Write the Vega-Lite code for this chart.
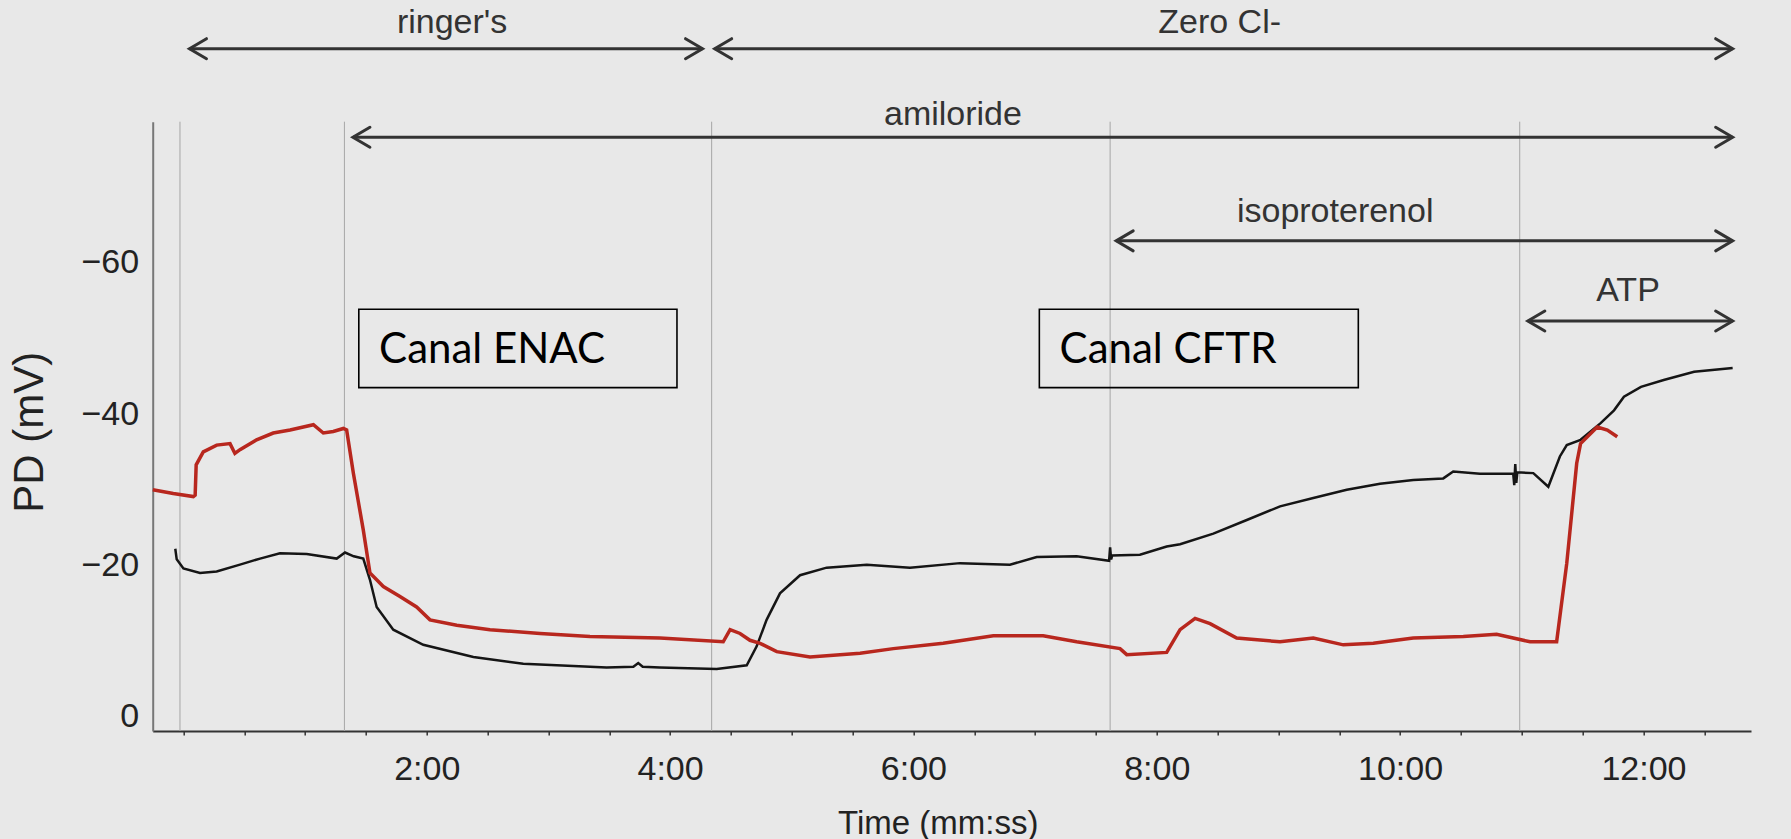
{
  "$schema": "https://vega.github.io/schema/vega-lite/v6.json",
  "autosize": {"type": "none"},
  "padding": {"left": 152.7, "top": 121.7, "right": 40, "bottom": 108},
  "width": 1598.3,
  "height": 609.3,
  "background": "#e8e8e8",
  "config": {"view": {"stroke": null}, "axis": {"grid": false}},
  "datasets": {
    "events": [{"t": -1.7}, {"t": 79.4}, {"t": 260.5}, {"t": 457}, {"t": 659}],
    "boxes": [
      {"label": "Canal ENAC", "x1": 86.5, "x2": 243.4, "y1": -53.85, "y2": -43.5, "tx": 96.5, "ty": -46.8},
      {"label": "Canal CFTR", "x1": 422.1, "x2": 579.4, "y1": -53.85, "y2": -43.5, "tx": 432.1, "ty": -46.8}
    ],
    "arrows": [
      {"label": "ringer's", "start": 3, "end": 256, "level": -88.3, "tx": 132.5, "ty": -90.4},
      {"label": "Zero Cl-", "start": 262, "end": 764, "level": -88.3, "tx": 511, "ty": -90.4},
      {"label": "amiloride", "start": 83.6, "end": 764, "level": -76.6, "tx": 379.5, "ty": -78.2},
      {"label": "isoproterenol", "start": 460, "end": 764, "level": -62.9, "tx": 568, "ty": -65.4},
      {"label": "ATP", "start": 663, "end": 764, "level": -52.3, "tx": 712.4, "ty": -54.9}
    ],
    "black": [
      {"t": -4.0, "v": -22.2}, {"t": -3.3, "v": -20.8}, {"t": 0, "v": -19.6}, {"t": 8.2, "v": -19.0},
      {"t": 16.4, "v": -19.2}, {"t": 27.9, "v": -20.1}, {"t": 37.8, "v": -20.9}, {"t": 47.6, "v": -21.6},
      {"t": 60.8, "v": -21.5}, {"t": 75.6, "v": -20.9}, {"t": 79.7, "v": -21.7}, {"t": 84, "v": -21.2},
      {"t": 88.7, "v": -20.9}, {"t": 92, "v": -18.1}, {"t": 95.3, "v": -14.5}, {"t": 103.5, "v": -11.5},
      {"t": 118.3, "v": -9.5}, {"t": 143, "v": -7.9}, {"t": 167.6, "v": -7.0}, {"t": 192.3, "v": -6.7},
      {"t": 208.7, "v": -6.5}, {"t": 221.9, "v": -6.6}, {"t": 224.3, "v": -7.1}, {"t": 226.5, "v": -6.6},
      {"t": 235, "v": -6.5}, {"t": 263, "v": -6.3}, {"t": 277.8, "v": -6.8}, {"t": 282.7, "v": -9.3},
      {"t": 287.6, "v": -12.8}, {"t": 294.2, "v": -16.3}, {"t": 304.1, "v": -18.7}, {"t": 317.2, "v": -19.7},
      {"t": 337, "v": -20.1}, {"t": 358.3, "v": -19.7}, {"t": 383, "v": -20.3}, {"t": 407.6, "v": -20.1},
      {"t": 420.8, "v": -21.1}, {"t": 440.5, "v": -21.2}, {"t": 456.5, "v": -20.6}, {"t": 457, "v": -22.4},
      {"t": 457.5, "v": -20.8}, {"t": 458, "v": -21.3}, {"t": 471.7, "v": -21.4}, {"t": 484.9, "v": -22.5},
      {"t": 491.5, "v": -22.8}, {"t": 507.9, "v": -24.2}, {"t": 524.4, "v": -26.0}, {"t": 540.8, "v": -27.8},
      {"t": 557.2, "v": -28.9}, {"t": 573.7, "v": -30.0}, {"t": 590.1, "v": -30.8}, {"t": 606.5, "v": -31.3},
      {"t": 621.3, "v": -31.5}, {"t": 626.2, "v": -32.4}, {"t": 639.4, "v": -32.1}, {"t": 655.8, "v": -32.1},
      {"t": 656.3, "v": -30.6}, {"t": 656.8, "v": -33.4}, {"t": 657.3, "v": -30.9}, {"t": 657.8, "v": -32.3},
      {"t": 665.7, "v": -32.2}, {"t": 673.1, "v": -30.4}, {"t": 678.8, "v": -34.4}, {"t": 682.2, "v": -35.9},
      {"t": 689, "v": -36.6}, {"t": 698.9, "v": -38.8}, {"t": 705.5, "v": -40.5}, {"t": 710.4, "v": -42.3},
      {"t": 718.8, "v": -43.6}, {"t": 730, "v": -44.5}, {"t": 745, "v": -45.6}, {"t": 764, "v": -46.1}
    ],
    "red": [
      {"t": -15.1, "v": -30.0}, {"t": -5, "v": -29.5}, {"t": 4.9, "v": -29.1}, {"t": 5.8, "v": -29.3},
      {"t": 6.3, "v": -33.3}, {"t": 9.8, "v": -35.0}, {"t": 16.4, "v": -35.9}, {"t": 23, "v": -36.1},
      {"t": 25.4, "v": -34.8}, {"t": 27.9, "v": -35.3}, {"t": 36.1, "v": -36.6}, {"t": 44.3, "v": -37.5},
      {"t": 52.6, "v": -37.9}, {"t": 64.1, "v": -38.6}, {"t": 69, "v": -37.5}, {"t": 73.9, "v": -37.7},
      {"t": 78.9, "v": -38.1}, {"t": 80.5, "v": -37.9}, {"t": 83.8, "v": -32.2}, {"t": 88.7, "v": -24.7},
      {"t": 92, "v": -19.0}, {"t": 98.6, "v": -17.2}, {"t": 106.8, "v": -15.9}, {"t": 115, "v": -14.5},
      {"t": 121.6, "v": -12.8}, {"t": 134.8, "v": -12.1}, {"t": 151.2, "v": -11.5}, {"t": 175.9, "v": -11.0},
      {"t": 200.5, "v": -10.6}, {"t": 235, "v": -10.4}, {"t": 266.2, "v": -9.9}, {"t": 269.6, "v": -11.5},
      {"t": 274.5, "v": -11.0}, {"t": 279.4, "v": -10.1}, {"t": 284.4, "v": -9.7}, {"t": 292.6, "v": -8.6},
      {"t": 309, "v": -7.9}, {"t": 333.7, "v": -8.4}, {"t": 350.1, "v": -9.0}, {"t": 374.7, "v": -9.7},
      {"t": 399.4, "v": -10.7}, {"t": 424, "v": -10.7}, {"t": 440.5, "v": -9.9}, {"t": 461.9, "v": -9.0},
      {"t": 465.2, "v": -8.2}, {"t": 484.9, "v": -8.5}, {"t": 491.5, "v": -11.5}, {"t": 498.9, "v": -13.0},
      {"t": 506.3, "v": -12.3}, {"t": 519.4, "v": -10.4}, {"t": 540.8, "v": -9.9}, {"t": 557.2, "v": -10.4},
      {"t": 572, "v": -9.5}, {"t": 586.8, "v": -9.7}, {"t": 606.5, "v": -10.4}, {"t": 631.2, "v": -10.6},
      {"t": 647.6, "v": -10.9}, {"t": 664.1, "v": -9.9}, {"t": 677.2, "v": -9.9}, {"t": 682.2, "v": -20.3},
      {"t": 687.1, "v": -33.5}, {"t": 689, "v": -36.1}, {"t": 697.2, "v": -38.3}, {"t": 702.2, "v": -37.9},
      {"t": 707.1, "v": -37.0}
    ]
  },
  "layer": [
    {
      "data": {"name": "events"},
      "mark": {"type": "rule", "color": "#a6a6a6", "strokeWidth": 1},
      "encoding": {
        "x": {
          "field": "t", "type": "quantitative",
          "scale": {"domain": [-15.14, 773.05], "nice": false, "zero": false},
          "axis": {
            "values": [0, 30, 60, 90, 120, 150, 180, 210, 240, 270, 300, 330, 360, 390, 420, 450, 480, 510, 540, 570, 600, 630, 660, 690, 720, 750],
            "labelExpr": "datum.value > 0 && datum.value % 120 == 0 ? floor(datum.value / 60) + ':00' : ''",
            "title": "Time (mm:ss)",
            "titleFont": "Liberation Sans", "titleFontSize": 33, "titleFontWeight": "normal", "titleColor": "#222222",
            "titleX": 785, "titleY": 102, "titleBaseline": "alphabetic", "titleAlign": "center",
            "labelFont": "Liberation Sans", "labelFontSize": 34, "labelColor": "#222222", "labelPadding": 17,
            "labelOverlap": false, "labelFlush": false,
            "tickSize": 4, "tickWidth": 1.5, "tickColor": "#333333",
            "domainColor": "#333333", "domainWidth": 2, "grid": false
          }
        }
      }
    },
    {
      "data": {"name": "boxes"},
      "mark": {"type": "rect", "filled": false, "stroke": "#000000", "strokeWidth": 1.6},
      "encoding": {
        "x": {"field": "x1", "type": "quantitative", "scale": {"domain": [-15.14, 773.05], "nice": false, "zero": false}},
        "x2": {"field": "x2"},
        "y": {
          "field": "y1", "type": "quantitative",
          "scale": {"domain": [-78.65, 1.89], "reverse": true, "nice": false, "zero": false},
          "axis": {
            "values": [-60, -40, -20, 0],
            "labelExpr": "datum.value < 0 ? '−' + (-datum.value) : '' + datum.value",
            "title": "PD (mV)",
            "titleFont": "Liberation Sans", "titleFontSize": 42, "titleFontWeight": "normal", "titleColor": "#222222",
            "titleAngle": -90, "titleX": -123.7, "titleY": 310, "titleBaseline": "middle", "titleAlign": "center",
            "labelFont": "Liberation Sans", "labelFontSize": 34, "labelColor": "#222222", "labelPadding": 14,
            "ticks": false, "domainColor": "#777777", "domainWidth": 2, "grid": false
          }
        },
        "y2": {"field": "y2"}
      }
    },
    {
      "data": {"name": "boxes"},
      "mark": {"type": "text", "align": "left", "baseline": "alphabetic", "font": "Lato", "fontSize": 42, "color": "#000000"},
      "encoding": {
        "x": {"field": "tx", "type": "quantitative", "scale": {"domain": [-15.14, 773.05], "nice": false, "zero": false}},
        "y": {"field": "ty", "type": "quantitative", "scale": {"domain": [-78.65, 1.89], "reverse": true, "nice": false, "zero": false}},
        "text": {"field": "label"}
      }
    },
    {
      "data": {"name": "arrows"},
      "mark": {"type": "rule", "color": "#333333", "strokeWidth": 3},
      "encoding": {
        "x": {"field": "start", "type": "quantitative", "scale": {"domain": [-15.14, 773.05], "nice": false, "zero": false}},
        "x2": {"field": "end"},
        "y": {"field": "level", "type": "quantitative", "scale": {"domain": [-78.65, 1.89], "reverse": true, "nice": false, "zero": false}}
      }
    },
    {
      "data": {"name": "arrows"},
      "mark": {"type": "point", "shape": "M1.7,-1L0,0L1.7,1", "filled": false, "size": 400, "strokeWidth": 3, "color": "#333333", "opacity": 1, "strokeCap": "round"},
      "encoding": {
        "x": {"field": "start", "type": "quantitative", "scale": {"domain": [-15.14, 773.05], "nice": false, "zero": false}},
        "y": {"field": "level", "type": "quantitative", "scale": {"domain": [-78.65, 1.89], "reverse": true, "nice": false, "zero": false}}
      }
    },
    {
      "data": {"name": "arrows"},
      "mark": {"type": "point", "shape": "M-1.7,-1L0,0L-1.7,1", "filled": false, "size": 400, "strokeWidth": 3, "color": "#333333", "opacity": 1, "strokeCap": "round"},
      "encoding": {
        "x": {"field": "end", "type": "quantitative", "scale": {"domain": [-15.14, 773.05], "nice": false, "zero": false}},
        "y": {"field": "level", "type": "quantitative", "scale": {"domain": [-78.65, 1.89], "reverse": true, "nice": false, "zero": false}}
      }
    },
    {
      "data": {"name": "arrows"},
      "mark": {"type": "text", "align": "center", "baseline": "alphabetic", "font": "Liberation Sans", "fontSize": 34, "color": "#333333"},
      "encoding": {
        "x": {"field": "tx", "type": "quantitative", "scale": {"domain": [-15.14, 773.05], "nice": false, "zero": false}},
        "y": {"field": "ty", "type": "quantitative", "scale": {"domain": [-78.65, 1.89], "reverse": true, "nice": false, "zero": false}},
        "text": {"field": "label"}
      }
    },
    {
      "data": {"name": "black"},
      "mark": {"type": "line", "color": "#151515", "strokeWidth": 2.5},
      "encoding": {
        "x": {"field": "t", "type": "quantitative", "scale": {"domain": [-15.14, 773.05], "nice": false, "zero": false}},
        "y": {"field": "v", "type": "quantitative", "scale": {"domain": [-78.65, 1.89], "reverse": true, "nice": false, "zero": false}}
      }
    },
    {
      "data": {"name": "red"},
      "mark": {"type": "line", "color": "#b8271e", "strokeWidth": 3.5},
      "encoding": {
        "x": {"field": "t", "type": "quantitative", "scale": {"domain": [-15.14, 773.05], "nice": false, "zero": false}},
        "y": {"field": "v", "type": "quantitative", "scale": {"domain": [-78.65, 1.89], "reverse": true, "nice": false, "zero": false}}
      }
    }
  ]
}
